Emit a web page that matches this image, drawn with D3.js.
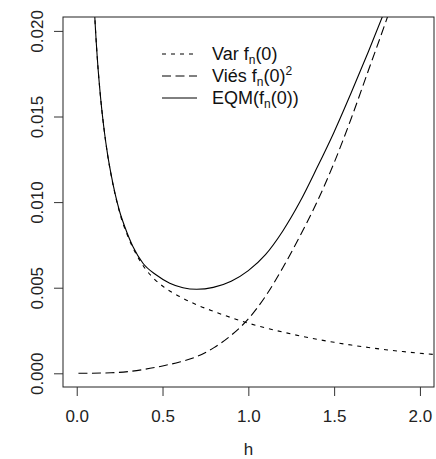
<!DOCTYPE html>
<html>
<head>
<meta charset="utf-8">
<script src="https://cdn.jsdelivr.net/npm/d3@7"></script>
<style>
  html, body { margin: 0; padding: 0; background: #fff; }
  svg { display: block; font-family: "Liberation Sans", Arial, Helvetica, sans-serif; }
</style>
</head>
<body>
<svg id="chart" width="436" height="459"></svg>
<script>
// ---- data ----
const hVar = [0.09, 0.105, 0.12, 0.14, 0.16, 0.18, 0.2, 0.25, 0.3, 0.35, 0.4, 0.45, 0.5, 0.6, 0.7, 0.8, 0.9, 1.0, 1.1, 1.2, 1.3, 1.4, 1.5, 1.6, 1.7, 1.8, 1.9, 2.0, 2.09];
const varVals = [0.0243, 0.02088, 0.0184, 0.0160, 0.0142, 0.01275, 0.0116, 0.0094, 0.00795, 0.0069, 0.0061, 0.00553, 0.0051, 0.00448, 0.0040, 0.00361, 0.00325, 0.00293, 0.00265, 0.00241, 0.00219, 0.00199, 0.00181, 0.00165, 0.00151, 0.00138, 0.00127, 0.00117, 0.00109];

const hBias = [0.01, 0.2, 0.3, 0.4, 0.5, 0.6, 0.7, 0.8, 0.9, 1.0, 1.1, 1.2, 1.3, 1.4, 1.5, 1.6, 1.7, 1.8, 1.9];
const biasVals = [0, 0.00003, 0.0001, 0.00024, 0.00043, 0.00066, 0.00098, 0.0015, 0.00222, 0.00318, 0.0045, 0.00615, 0.0080, 0.0100, 0.0123, 0.0149, 0.0177, 0.0205, 0.0234];

const hMSE = [0.09, 0.105, 0.12, 0.14, 0.16, 0.18, 0.2, 0.25, 0.28, 0.328, 0.386, 0.464, 0.542, 0.619, 0.699, 0.796, 0.9, 1.0, 1.1, 1.2, 1.3, 1.4, 1.5, 1.6, 1.7, 1.8, 1.9];
const mseVals = [0.0243, 0.02088, 0.0184, 0.0160, 0.0142, 0.01277, 0.01163, 0.00945, 0.00856, 0.00739, 0.00643, 0.00574, 0.00526, 0.00500, 0.00491, 0.00502, 0.00538, 0.0060, 0.00693, 0.0083, 0.0100, 0.0120, 0.0141, 0.0164, 0.0188, 0.0213, 0.0239];

const xTicks = [0, 0.5, 1.0, 1.5, 2.0];
const xTickLabels = ["0.0", "0.5", "1.0", "1.5", "2.0"];
const yTicks = [0, 0.005, 0.010, 0.015, 0.020];
const yTickLabels = ["0.000", "0.005", "0.010", "0.015", "0.020"];
const xLabel = "h";

// ---- layout ----
const svg = d3.select("#chart");
const L = 63, R = 434, T = 17, B = 387;
const x = d3.scaleLinear().domain([-0.08, 2.082]).range([L, R]);
const y = d3.scaleLinear().domain([-0.0008, 0.020812]).range([B, T]);

svg.append("defs").append("clipPath").attr("id", "clip")
  .append("rect").attr("x", L).attr("y", T).attr("width", R - L).attr("height", B - T);

const line = d3.line().x(d => x(d[0])).y(d => y(d[1])).curve(d3.curveMonotoneX);
const g = svg.append("g").attr("clip-path", "url(#clip)");

const series = [
  { h: hVar, v: varVals, dash: "4,5" },
  { h: hBias, v: biasVals, dash: "9,4.5" },
  { h: hMSE, v: mseVals, dash: null }
];
series.forEach(s => {
  const pts = s.h.map((h, i) => [h, s.v[i]]);
  g.append("path").attr("d", line(pts))
    .attr("fill", "none").attr("stroke", "#000").attr("stroke-width", 1.1)
    .attr("stroke-dasharray", s.dash);
});

// box
svg.append("rect").attr("x", L).attr("y", T).attr("width", R - L).attr("height", B - T)
  .attr("fill", "none").attr("stroke", "#222").attr("stroke-width", 1);

// x axis
const xAxis = d3.axisBottom(x).tickValues(xTicks).tickSize(9).tickFormat((d, i) => xTickLabels[i]);
const gx = svg.append("g").attr("transform", `translate(0,${B})`).call(xAxis);
gx.select(".domain").remove();
gx.selectAll(".tick line").attr("stroke", "#333");
gx.selectAll(".tick text").attr("font-size", 17).attr("fill", "#222")
  .attr("font-family", "'Liberation Sans', Arial, sans-serif").attr("dy", null).attr("y", 35);

// y axis
const yAxis = d3.axisLeft(y).tickValues(yTicks).tickSize(9).tickFormat((d, i) => yTickLabels[i]);
const gy = svg.append("g").attr("transform", `translate(${L},0)`).call(yAxis);
gy.select(".domain").remove();
gy.selectAll(".tick line").attr("stroke", "#333");
gy.selectAll(".tick text").attr("font-size", 17).attr("fill", "#222")
  .attr("font-family", "'Liberation Sans', Arial, sans-serif")
  .attr("x", null).attr("dy", null).attr("text-anchor", "middle")
  .attr("transform", "translate(-20,0) rotate(-90)");

// x label
svg.append("text").attr("x", (L + R) / 2).attr("y", 455).attr("text-anchor", "middle")
  .attr("font-size", 17).attr("fill", "#222").text(xLabel);

// legend
const legend = [
  { dash: "4,5", parts: [["Var f", 0], ["n", 1], ["(0)", 0]] },
  { dash: "9,4.5", parts: [["Viés f", 0], ["n", 1], ["(0)", 0], ["2", -1]] },
  { dash: null, parts: [["EQM(f", 0], ["n", 1], ["(0))", 0]] }
];
const lg = svg.append("g");
legend.forEach((item, i) => {
  const yy = 54 + i * 22;
  lg.append("line").attr("x1", 162).attr("x2", 197).attr("y1", yy).attr("y2", yy)
    .attr("stroke", "#000").attr("stroke-width", 1).attr("stroke-dasharray", item.dash);
  const t = lg.append("text").attr("x", 212).attr("y", yy + 6).attr("font-size", 18).attr("fill", "#111");
  let cur = 0;
  item.parts.forEach(([txt, mode]) => {
    const target = mode === 1 ? 4 : mode === -1 ? -7 : 0;
    t.append("tspan").attr("dy", target - cur).attr("font-size", mode === 0 ? 18 : 12).text(txt);
    cur = target;
  });
});
</script>
</body>
</html>
